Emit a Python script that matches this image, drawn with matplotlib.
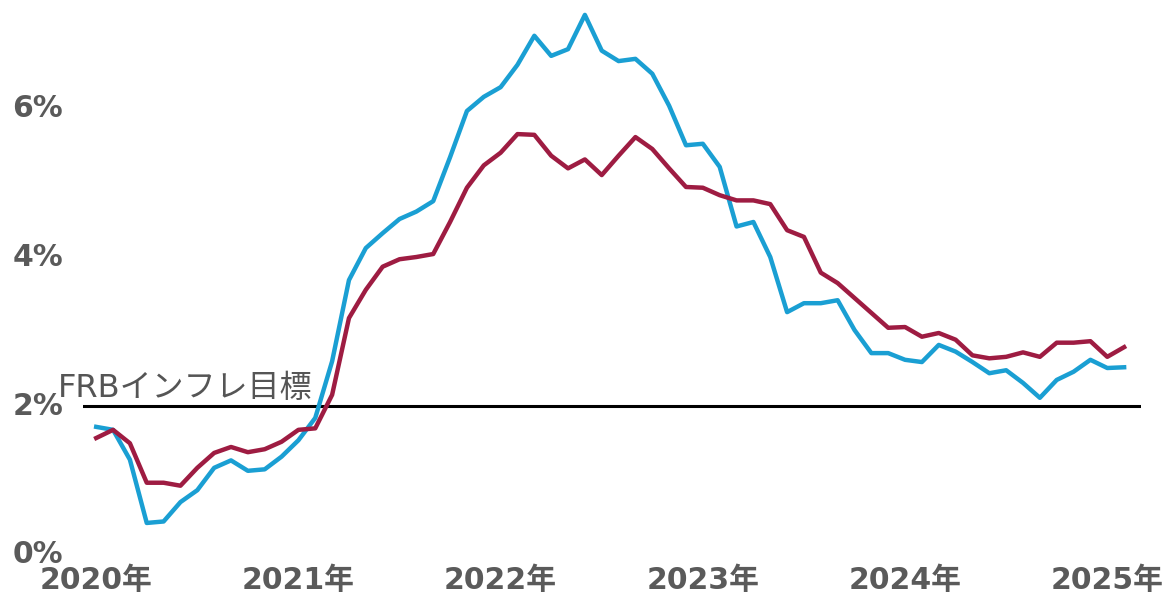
import matplotlib
matplotlib.use("Agg")
import matplotlib.pyplot as plt
import numpy as np

# 月次データ 2020年1月〜2025年2月 (前年比, %)
pce = [1.72, 1.68, 1.28, 0.43, 0.45, 0.71, 0.87, 1.17, 1.27, 1.13, 1.15, 1.32,
       1.54, 1.84, 2.60, 3.69, 4.12, 4.32, 4.51, 4.61, 4.75, 5.34, 5.96, 6.15,
       6.28, 6.58, 6.97, 6.70, 6.79, 7.25, 6.77, 6.63, 6.66, 6.46, 6.03, 5.50,
       5.52, 5.21, 4.41, 4.47, 4.00, 3.26, 3.38, 3.38, 3.42, 3.02, 2.71, 2.71,
       2.62, 2.59, 2.82, 2.73, 2.59, 2.44, 2.48, 2.31, 2.11, 2.35, 2.46, 2.62,
       2.51, 2.52]
core_pce = [1.57, 1.68, 1.50, 0.97, 0.97, 0.93, 1.17, 1.37, 1.45, 1.38, 1.42, 1.52,
            1.68, 1.70, 2.15, 3.18, 3.56, 3.87, 3.97, 4.00, 4.04, 4.47, 4.93, 5.23,
            5.40, 5.65, 5.64, 5.36, 5.19, 5.31, 5.10, 5.36, 5.61, 5.45, 5.19, 4.94,
            4.93, 4.83, 4.76, 4.76, 4.71, 4.36, 4.27, 3.79, 3.65, 3.45, 3.25, 3.05,
            3.06, 2.93, 2.98, 2.89, 2.68, 2.64, 2.66, 2.72, 2.66, 2.85, 2.85, 2.87,
            2.66, 2.79]
year_labels = ["2020年", "2021年", "2022年", "2023年", "2024年", "2025年"]
y_ticks = [0, 2, 4, 6]
target = 2.0

# 数字は Verdana 風の DejaVu、漢字・かなは CJK にフォールバック
plt.rcParams['font.family'] = ['DejaVu Sans', 'Noto Sans CJK JP']

months = np.arange(len(pce))

fig = plt.figure(figsize=(11.73, 5.96), dpi=100)
ax = fig.add_axes([0.0708, 0.0688, 0.9019, 0.9312])

# 目標ライン
ax.axhline(target, color="black", lw=2.2, zorder=1)
ax.text(-2.25, target + 0.03, "FRBインフレ目標", fontsize=23, color="#555555",
        ha="left", va="bottom", clip_on=False, zorder=3)

ax.plot(months, pce, color="#1a9fd3", lw=3.2, zorder=2)
ax.plot(months, core_pce, color="#9e1c42", lw=3.2, zorder=2)

ax.set_xlim(-0.78, 62.0)
ax.set_ylim(0, 7.45)

ax.set_xticks(np.arange(0, len(pce), 12))
ax.set_xticklabels(year_labels)
ax.set_yticks(y_ticks)
ax.set_yticklabels([f"{v}%" for v in y_ticks])

ax.tick_params(axis="x", length=0, pad=8, labelsize=21.5, labelcolor="#5a5a5a")
ax.tick_params(axis="y", length=0, pad=51, labelsize=21.5, labelcolor="#5a5a5a")
for lbl in ax.get_xticklabels() + ax.get_yticklabels():
    lbl.set_fontweight("bold")
for lbl in ax.get_yticklabels():
    lbl.set_horizontalalignment("left")
    lbl.set_verticalalignment("center")

for s in ax.spines.values():
    s.set_visible(False)

fig.savefig("out.png", dpi=100)
